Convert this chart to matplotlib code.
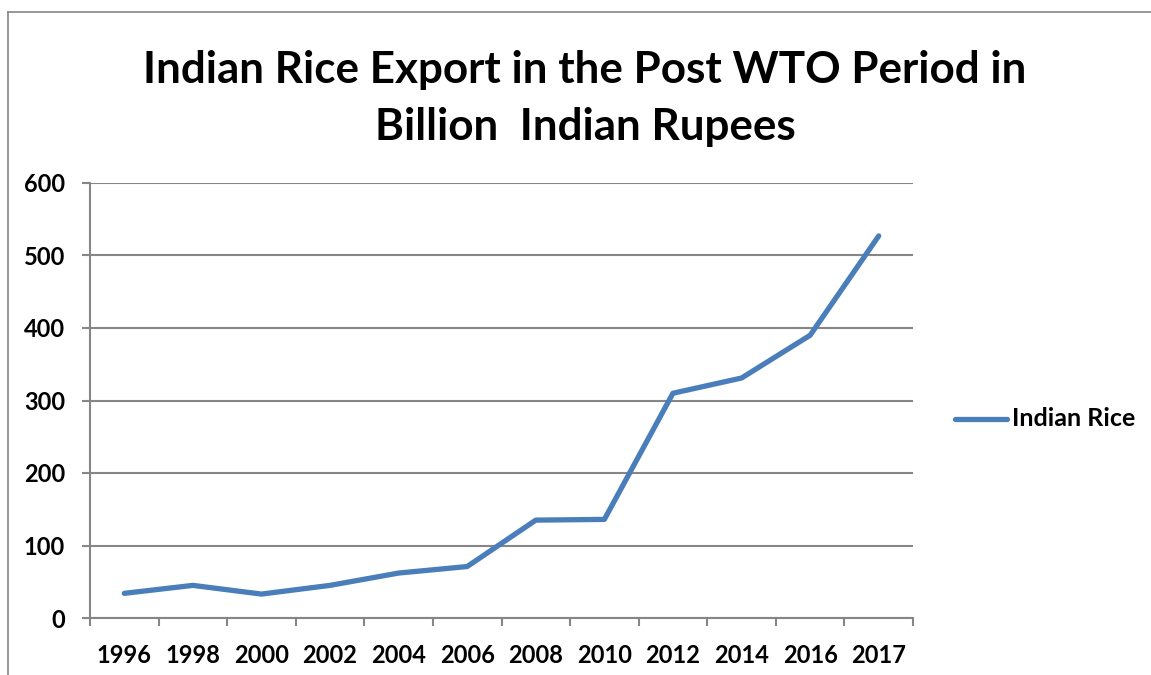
import matplotlib
matplotlib.use("Agg")
import matplotlib.pyplot as plt
from matplotlib.lines import Line2D

years = ["1996", "1998", "2000", "2002", "2004", "2006",
         "2008", "2010", "2012", "2014", "2016", "2017"]
rice_export = [34, 45, 33, 45, 62, 71, 135, 136, 310, 331, 390, 527]

GREY = "#868686"
BLUE = "#4a7ebb"
plt.rcParams["font.family"] = ["Lato", "DejaVu Sans"]

fig = plt.figure(figsize=(11.51, 6.75), dpi=100)
ax = fig.add_axes([90 / 1151, 1 - 618 / 675, 823 / 1151, 435 / 675])

x = list(range(len(years)))
ax.plot(x, rice_export, color=BLUE, lw=3.8, solid_capstyle="round",
        solid_joinstyle="round", zorder=3)

ax.set_xlim(-0.5, len(years) - 0.5)
ax.set_ylim(0, 600)
ax.set_yticks(range(0, 601, 100))
ax.yaxis.grid(True, color=GREY, lw=1.5)
ax.set_axisbelow(True)

# category ticks sit between the labels
ax.set_xticks([i - 0.5 for i in range(len(years) + 1)])
ax.set_xticklabels([])
ax.set_xticks(x, minor=True)
ax.set_xticklabels(years, minor=True, fontsize=17, fontweight="bold")
ax.tick_params(axis="x", which="major", length=6, width=1.5, color=GREY)
ax.tick_params(axis="x", which="minor", length=0, pad=19)
ax.tick_params(axis="y", length=6, width=1.5, color=GREY, pad=12,
               labelsize=17)
for lab in ax.get_yticklabels():
    lab.set_fontweight("bold")

for side in ("top", "right"):
    ax.spines[side].set_visible(False)
for side in ("left", "bottom"):
    ax.spines[side].set_color(GREY)
    ax.spines[side].set_linewidth(1.5)

fig.text(585 / 1151, 1 - 70 / 675, "Indian Rice Export in the Post WTO Period in",
         ha="center", va="center", fontsize=31.7, fontweight="bold")
fig.text(585 / 1151, 1 - 127 / 675, "Billion  Indian Rupees",
         ha="center", va="center", fontsize=31.7, fontweight="bold")

# legend drawn at the right of the plot
fig.add_artist(Line2D([955 / 1151, 1007 / 1151], [1 - 419 / 675] * 2,
                      color=BLUE, lw=3.8, solid_capstyle="round"))
fig.text(1012 / 1151, 1 - 419 / 675, "Indian Rice", ha="left", va="center",
         fontsize=18, fontweight="bold")

# chart area border
fig.add_artist(Line2D([8 / 1151, 8 / 1151], [0, 1 - 12 / 675], color=GREY, lw=1.2))
fig.add_artist(Line2D([8 / 1151, 1], [1 - 12 / 675] * 2, color=GREY, lw=1.2))

fig.savefig("out.png", dpi=100)
